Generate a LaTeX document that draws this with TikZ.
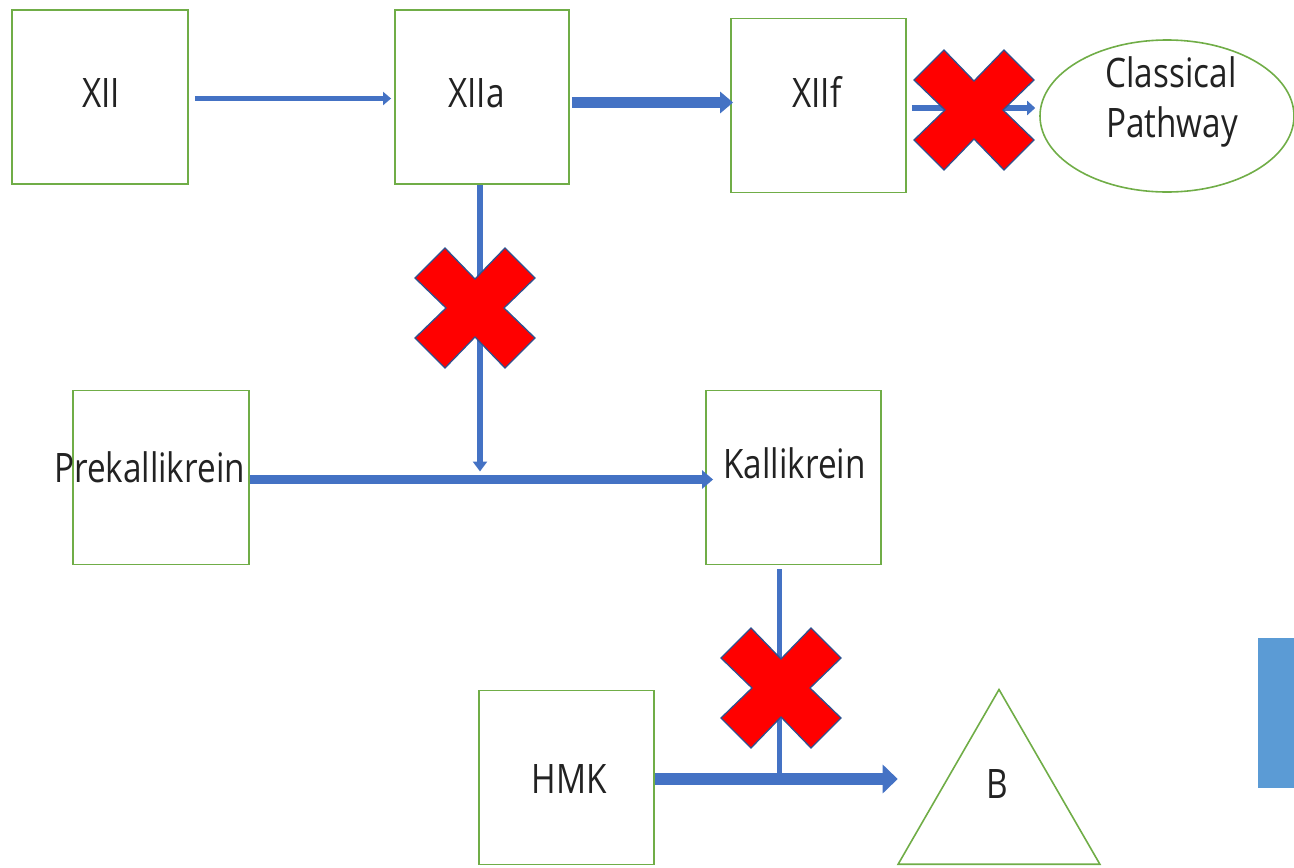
\documentclass[tikz,border=0pt]{standalone}
\usepackage{fontspec}
\setmainfont{Open Sans}[FakeStretch=0.82]
\usetikzlibrary{arrows.meta,shapes.geometric}
\definecolor{boxgreen}{HTML}{70AD47}
\definecolor{arrblue}{HTML}{4472C4}
\definecolor{xred}{HTML}{FF0000}
\definecolor{xedge}{HTML}{2F528F}
\definecolor{rectblue}{HTML}{5B9BD5}
\definecolor{txt}{HTML}{222222}
\begin{document}
\begin{tikzpicture}[x=1pt,y=-1pt,
  gbox/.style={draw=boxgreen, line width=1.8pt, minimum width=175pt, minimum height=174pt, inner sep=0pt},
  lbl/.style={font=\fontsize{40.6}{50}\selectfont, text=txt, inner sep=0pt, text height=29pt, text depth=0pt},
  thinarr/.style={draw=arrblue, line width=5pt, -{Triangle[length=8pt,width=13pt]}},
  thickarr/.style={draw=arrblue, line width=11pt, -{Triangle[length=13pt,width=21pt]}},
  plainline/.style={draw=arrblue, line width=5pt},
  redx/.pic={\filldraw[fill=xred, draw=xedge, line width=1.3pt, line join=miter]
    (-60,-30) -- (-30,-60) -- (0,-29) -- (30,-60) -- (60,-30) -- (29,0) -- (60,30) -- (30,60) -- (0,29) -- (-30,60) -- (-60,30) -- (-29,0) -- cycle;}
]
\useasboundingbox (0,0) rectangle (1294,868);

% boxes
\node[gbox, minimum width=176pt] (xii) at (100,97) {};
\node[gbox, minimum width=174pt] (xiia) at (482,97) {};
\node[gbox] (xiif) at (818.5,105.5) {};
\node[draw=boxgreen, line width=1.6pt, ellipse, minimum width=254pt, minimum height=152pt, inner sep=0pt] (cp) at (1167,116) {};
\node[gbox, minimum width=176pt] (prek) at (161,477.5) {};
\node[gbox] (kall) at (793.5,477.5) {};
\node[gbox] (hmk) at (566.5,777.5) {};
\node[draw=boxgreen, line width=1.6pt, regular polygon, regular polygon sides=3, minimum size=233pt, inner sep=0pt] (b) at (999,806) {};

% texts
\node[lbl] (t-xii) at (101,92.5) {XII};
\node[lbl] (t-xiia) at (476.5,92.5) {XIIa};
\node[lbl] (t-xiif) at (817,92.5) {XIIf};
\node[lbl] (t-cl) at (1171,73) {Classical};
\node[lbl] (t-pw) at (1172,122.5) {Pathway};
\node[lbl] (t-prek) at (149.5,468) {Prekallikrein};
\node[lbl] (t-kall) at (794.5,463.5) {Kallikrein};
\node[lbl] (t-hmk) at (569,779) {HMK};
\node[lbl] (t-b) at (997.5,784) {B};

% connectors
\draw[thinarr, shorten <=6pt, shorten >=3pt] ([yshift=-1.5pt]xii.east) -- ([yshift=-1.5pt]xii.east -| xiia.west);
\draw[thickarr, shorten <=2pt, shorten >=-3pt] ([yshift=-5.5pt]xiia.east) -- ([yshift=-5.5pt]xiia.east -| xiif.west);
\draw[draw=arrblue, line width=6pt, -{Triangle[length=8pt,width=14pt]}, shorten <=5pt, shorten >=4pt] ([yshift=-2.5pt]xiif.east) -- ([yshift=-2.5pt]xiif.east -| cp.west);
\draw[draw=arrblue, line width=6pt, -{Triangle[length=10pt,width=14pt]}, shorten >=6pt] ([xshift=-2pt]xiia.south) -- ([xshift=-2pt]xiia.south |- prek.east);
\draw[draw=arrblue, line width=9pt, -{Triangle[length=11pt,width=18pt]}, shorten >=-8pt] ([yshift=-2pt]prek.east) -- ([yshift=-2pt]prek.east -| kall.west);
\draw[plainline, shorten <=4pt, shorten >=5pt] ([xshift=-14pt]kall.south) -- ([xshift=-14pt]kall.south |- hmk.east);
\draw[draw=arrblue, line width=12pt, -{Triangle[length=15pt,width=28pt]}, shorten >=-1pt] ([yshift=-1.5pt]hmk.east) -- ([yshift=-1.5pt]hmk.east -| b.corner 2);

% crosses
\pic at (475,308) {redx};
\pic at (974,110) {redx};
\pic at (781,688) {redx};

% partial blue shape at right edge
\fill[rectblue] (1258,638) rectangle (1295,788);
\end{tikzpicture}
\end{document}
